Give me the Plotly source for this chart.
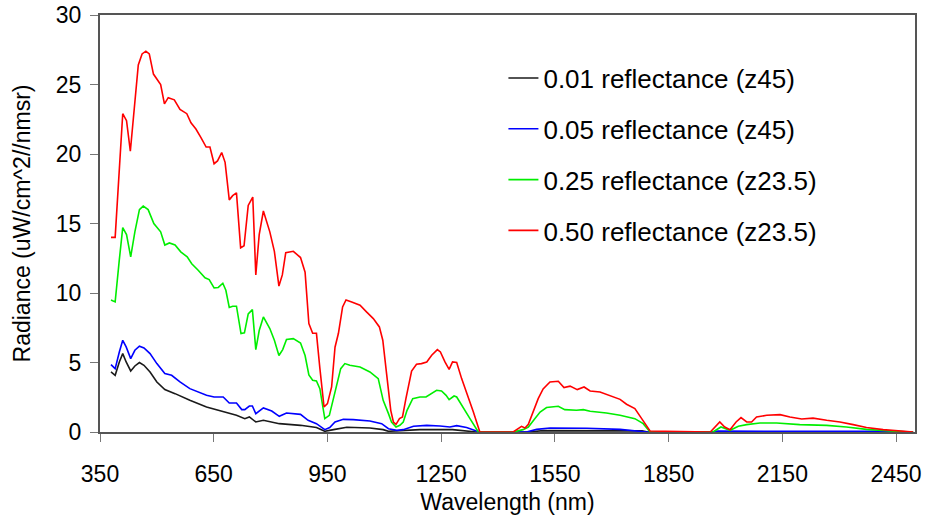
import plotly.graph_objects as go

# ---- data ----
names = ["0.01 reflectance (z45)", "0.05 reflectance (z45)",
         "0.25 reflectance (z23.5)", "0.50 reflectance (z23.5)"]
colors = ["#1a1a1a", "#0000ff", "#00ee00", "#ff0000"]

wl_001 = [379,390,401,410,419,431,442,454,466,482,500,521,548,587,631,675,710,732,744,761,
          781,823,879,921,943,966,1001,1062,1097,1111,1155,1194,1280,1326,1343,1480,1520,1780,1795,
          1965,2450,2495]
rad_001 = [4.32,4.08,5.04,5.64,5.04,4.39,4.75,5.0,4.8,4.32,3.6,3.05,2.76,2.28,1.8,1.44,1.2,0.96,1.08,0.72,
           0.84,0.6,0.48,0.32,0.05,0.17,0.34,0.29,0.17,0.05,0.12,0.17,0.17,0.07,0.0,0.0,0.1,0.08,0.0,
           0.02,0.02,0.0]

wl_005 = [379,390,401,410,419,431,442,454,466,482,500,521,539,561,587,609,631,651,675,691,
          710,724,732,744,752,761,781,803,823,842,879,899,921,943,956,970,992,1018,1062,1093,
          1111,1133,1150,1177,1212,1247,1273,1291,1317,1343,1355,1475,1502,1537,1634,1722,1792,
          1965,1980,2440,2470,2495]
rad_005 = [4.85,4.56,5.76,6.6,6.12,5.28,5.88,6.17,6.05,5.64,4.92,4.2,4.08,3.6,3.12,2.88,2.64,2.52,2.52,2.09,
           2.09,1.61,1.61,1.87,1.87,1.32,1.73,1.51,1.13,1.37,1.27,0.84,0.6,0.17,0.32,0.72,0.91,0.89,0.79,0.6,
           0.24,0.12,0.17,0.41,0.48,0.43,0.36,0.46,0.32,0.07,0.0,0.0,0.19,0.29,0.27,0.19,0.0,
           0.0,0.06,0.05,0.0,0.0]

wl_025 = [379,390,401,410,420,431,442,454,464,477,492,510,521,533,548,563,580,592,609,627,
          638,651,662,674,682,691,700,710,722,731,741,752,761,770,781,798,810,822,832,842,
          860,879,891,901,911,921,930,943,955,966,976,985,996,1009,1036,1062,1084,1097,1111,1119,
          1131,1141,1150,1160,1175,1194,1210,1225,1238,1251,1263,1271,1284,1291,1309,1326,1348,
          1440,1466,1480,1497,1511,1528,1559,1576,1607,1625,1643,1686,1722,1761,1783,1801,
          1967,1988,2012,2034,2056,2091,2135,2196,2267,2319,2372,2434,2469,2495]
rad_025 = [9.5,9.36,12.4,14.7,14.2,12.6,14.4,16.0,16.25,16.0,15.0,14.4,13.45,13.6,13.45,12.96,12.6,12.1,11.64,11.1,
           10.97,10.37,10.4,10.7,10.2,8.96,9.05,9.05,7.08,7.13,8.5,8.8,5.93,7.3,8.28,7.44,6.6,5.5,5.93,6.65,
           6.72,6.4,5.5,4.1,3.72,3.67,3.12,0.96,1.2,2.52,3.72,4.56,4.92,4.8,4.68,4.32,3.84,2.28,1.32,0.72,
           0.36,0.48,0.72,1.56,2.4,2.52,2.52,2.81,3.0,2.95,2.64,2.33,2.59,2.52,1.68,0.96,0.0,
           0.0,0.17,0.36,0.96,1.44,1.76,1.85,1.61,1.56,1.61,1.49,1.37,1.2,0.96,0.6,0.0,
           0.0,0.36,0.12,0.41,0.53,0.65,0.65,0.53,0.48,0.36,0.19,0.07,0.0,0.0]

wl_050 = [379,390,410,420,430,451,461,471,480,491,510,520,530,546,561,579,590,603,616,630,
          640,651,660,671,680,691,700,710,721,730,741,753,761,770,781,798,810,822,831,840,
          860,879,891,901,911,921,930,941,950,961,970,979,990,999,1014,1036,1053,1071,1087,1096,
          1106,1117,1124,1131,1140,1148,1157,1172,1185,1198,1212,1225,1240,1248,1260,1271,1280,1291,1304,1317,
          1335,1352,1440,1462,1471,1480,1493,1506,1519,1537,1559,1574,1590,1609,1627,1643,1669,1695,1722,1739,
          1761,1779,1801,1960,1985,1998,2012,2028,2041,2056,2069,2082,2109,2144,2170,2201,2231,2267,2302,2337,
          2372,2416,2443,2469,2495]
rad_050 = [14.0,14.0,22.9,22.4,20.2,26.4,27.2,27.4,27.2,25.75,25.0,23.6,24.05,23.9,23.2,22.9,22.25,21.8,21.2,20.5,
           20.5,19.3,19.5,20.1,19.4,16.7,17.0,17.2,13.25,13.4,16.3,16.9,11.3,14.2,15.9,14.4,13.0,10.5,11.3,12.9,
           13.0,12.55,11.5,7.8,7.1,7.1,4.6,1.8,2.04,3.24,6.1,7.1,9.0,9.5,9.36,9.12,8.64,8.16,7.56,6.6,
           4.2,1.56,0.72,0.55,0.96,1.08,2.4,4.39,4.87,4.92,5.04,5.52,5.93,5.76,5.04,4.51,5.04,5.0,3.84,2.88,
           1.44,0.0,0.0,0.41,0.29,0.55,1.44,2.4,3.1,3.6,3.65,3.2,3.3,3.05,3.24,2.95,2.88,2.64,2.35,2.0,
           1.68,0.96,0.07,0.0,0.72,0.36,0.17,0.72,1.04,0.72,0.72,1.08,1.2,1.25,1.08,0.94,1.0,0.84,0.72,0.53,
           0.32,0.17,0.12,0.05,0.0]

x_ticks = [350, 650, 950, 1250, 1550, 1850, 2150, 2450]
y_ticks = [0, 5, 10, 15, 20, 25, 30]

series = [(wl_001, rad_001), (wl_005, rad_005), (wl_025, rad_025), (wl_050, rad_050)]

FONT = "Arial, 'Liberation Sans', sans-serif"
fig = go.Figure()
for i, ((xs, ys), nm, col) in enumerate(zip(series, names, colors)):
    fig.add_trace(go.Scatter(x=xs, y=ys, mode="lines", name=nm, legendgroup=f"g{i}",
                             line=dict(color=col, width=1.6)))

axis_line = "#555555"
fig.update_layout(
    width=925, height=518,
    margin=dict(l=100, r=10, t=15, b=86),
    paper_bgcolor="white", plot_bgcolor="white",
    font=dict(family=FONT, size=23, color="black"),
    showlegend=True,
    legend=dict(x=0.495, y=0.905, xanchor="left", yanchor="top",
                font=dict(size=26, family=FONT, color="black"),
                bgcolor="rgba(0,0,0,0)", tracegroupgap=14, traceorder="grouped"),
    xaxis=dict(range=[350, 2500], tickmode="array", tickvals=x_ticks,
               ticktext=[str(v) for v in x_ticks], automargin=False,
               showgrid=False, zeroline=False, showline=True, linecolor=axis_line, linewidth=2,
               mirror=True, ticks="outside", ticklen=8, tickcolor="#777777", tickwidth=1,
               tickfont=dict(size=23), ticklabelstandoff=12,
               title=dict(text="Wavelength (nm)", font=dict(size=23), standoff=8)),
    yaxis=dict(range=[0, 30], tickmode="array", tickvals=y_ticks,
               ticktext=[str(v) for v in y_ticks], automargin=False,
               showgrid=False, zeroline=False, showline=True, linecolor=axis_line, linewidth=2,
               mirror=True, ticks="outside", ticklen=8, tickcolor="#777777", tickwidth=1,
               tickfont=dict(size=23), ticklabelstandoff=4,
               title=dict(text="Radiance (uW/cm^2//nmsr)", font=dict(size=23), standoff=19)),
)

fig.write_html("out.html", config={"displayModeBar": False},
               post_script="document.body.style.margin='0';")
